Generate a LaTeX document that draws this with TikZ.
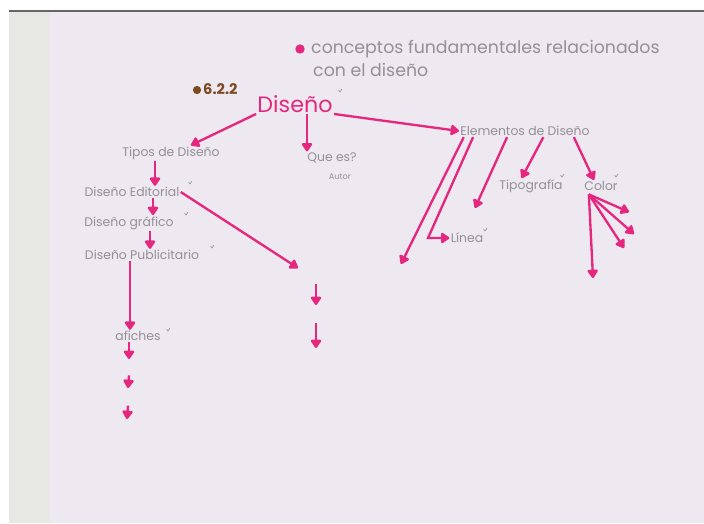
\documentclass[tikz,border=0pt]{standalone}
\usepackage{fontspec}
\setmainfont{Poppins}
\usetikzlibrary{positioning, arrows.meta}
\definecolor{marker}{HTML}{E5287F}
\definecolor{pencil}{HTML}{948F98}
\definecolor{paper}{HTML}{EEE8F0}
\definecolor{margin}{HTML}{E7E7E4}
\definecolor{sepia}{HTML}{7B4A22}

\begin{document}
\begin{tikzpicture}[
        x=0.03cm, y=-0.03cm,
        concept/.style={text=pencil, font=\fontsize{10.6}{12}\selectfont, inner sep=1pt},
        heading/.style={text=pencil, font=\fontsize{14.8}{17}\selectfont, inner sep=0pt, anchor=west},
        title/.style={text=marker, font=\fontsize{19}{21}\selectfont, inner sep=1pt},
        dot/.style={circle, inner sep=0pt, minimum size=#1},
        arrow/.style={-{Triangle[width=10pt,length=8pt,round]}, marker, line width=2pt},
        chk/.pic={\draw[pencil, line width=0.5pt] (-1.5,-2) -- (0,0) -- (2,-3);}
    ]
    % Paper
    \useasboundingbox (0,0) rectangle (704,523);
    \fill[white] (0,0) rectangle (704,523);
    \fill[margin] (9,11) rectangle (50,523);
    \fill[paper] (50,11) rectangle (704,523);
    \draw[black!60, line width=1pt] (9,11) -- (704,11);

    % Heading
    \node[dot=8pt, fill=marker] (bullet) at (300,49) {};
    \node[heading] (head1) at (311,49) {conceptos fundamentales relacionados};
    \node[heading] (head2) at (313,70) {con el diseño};
    \node[dot=7pt, fill=sepia] (secdot) at (197,90) {};
    \node[text=sepia, font=\fontsize{12.5}{14}\selectfont\bfseries, inner sep=0pt, anchor=west] (sec) at (203,89) {6.2.2};

    % Nodes
    \node[title] (diseno) at (295,104) {Diseño};
    \node[concept] (tipos) at (171,153) {Tipos de Diseño};
    \node[concept] (quees) at (332,158) {Que es?};
    \node[concept, font=\fontsize{7}{8}\selectfont] (autor) at (340,177) {Autor};
    \node[concept] (elementos) at (525,131) {Elementos de Diseño};
    \node[concept] (editorial) at (132,192) {Diseño Editorial};
    \node[concept] (grafico) at (129,223) {Diseño gráfico};
    \node[concept] (publicitario) at (142,255) {Diseño Publicitario};
    \node[concept] (afiches) at (138,336) {afiches};
    \node[concept] (tipografia) at (531,186) {Tipografía};
    \node[concept] (color) at (601,186) {Color};
    \node[concept] (linea) at (467,238) {Línea};

    % Free ends
    \coordinate (xtipos) at (155,0);
    \coordinate (xedit) at (153,0);
    \coordinate (xgraf) at (150,0);
    \coordinate (xpub) at (130,0);
    \coordinate (xque) at (307,0);
    \coordinate (edend) at (298,268);
    \coordinate (af1) at (129,359);
    \coordinate (af2) at (128,388);
    \coordinate (af3) at (127,419);
    \coordinate (mid1) at (316,305);
    \coordinate (mid2) at (316,348);
    \coordinate (elend) at (401,264);
    \coordinate (lcorner) at (428,238);
    \coordinate (elend3) at (475,208);
    \coordinate (col1) at (629,212);
    \coordinate (col2) at (634,234);
    \coordinate (col3) at (624,248);
    \coordinate (col4) at (593,278);

    % Main branches
    \draw[arrow] (diseno.south west) -- ([xshift=17pt]tipos.north);
    \draw[arrow] (diseno.south -| xque) -- (quees.north -| xque);
    \draw[arrow] (diseno.south east) -- (elementos.west);

    % Tipos de diseno
    \draw[arrow] (tipos.south -| xtipos) -- (editorial.north -| xtipos);
    \draw[arrow] (editorial.south -| xedit) -- (grafico.north -| xedit);
    \draw[arrow] (grafico.south -| xgraf) -- (publicitario.north -| xgraf);
    \draw[arrow] (publicitario.south -| xpub) -- (afiches.north -| xpub);
    \draw[arrow] (editorial.east) -- (edend);
    \draw[arrow] (afiches.south -| af1) -- (af1);
    \draw[arrow] ([yshift=-14pt]af1) -- (af2);
    \draw[arrow] ([yshift=-15pt]af2) -- (af3);
    \draw[arrow] ([yshift=18pt]mid1) -- (mid1);
    \draw[arrow] ([yshift=21pt]mid2) -- (mid2);

    % Elementos de diseno
    \draw[arrow] ([xshift=4pt]elementos.south west) -- (elend);
    \draw[arrow] ([xshift=12pt]elementos.south west) -- (lcorner) -- (linea.west);
    \draw[arrow] ([xshift=41pt]elementos.south west) -- (elend3);
    \draw[arrow] ([xshift=72pt]elementos.south west) -- ([xshift=-8pt]tipografia.north);
    \draw[arrow] ([xshift=98pt]elementos.south west) -- ([xshift=-6pt]color.north);
    \foreach \c in {col1,col2,col3,col4}
        \draw[arrow] ([xshift=5pt,yshift=-2pt]color.south west) -- (\c);

    % Check marks
    \foreach \p in {(340,92),(190,184),(186,215),(212,248),(168,331),(562,177),(616,177),(485,231)}
        \pic at \p {chk};
\end{tikzpicture}
\end{document}
